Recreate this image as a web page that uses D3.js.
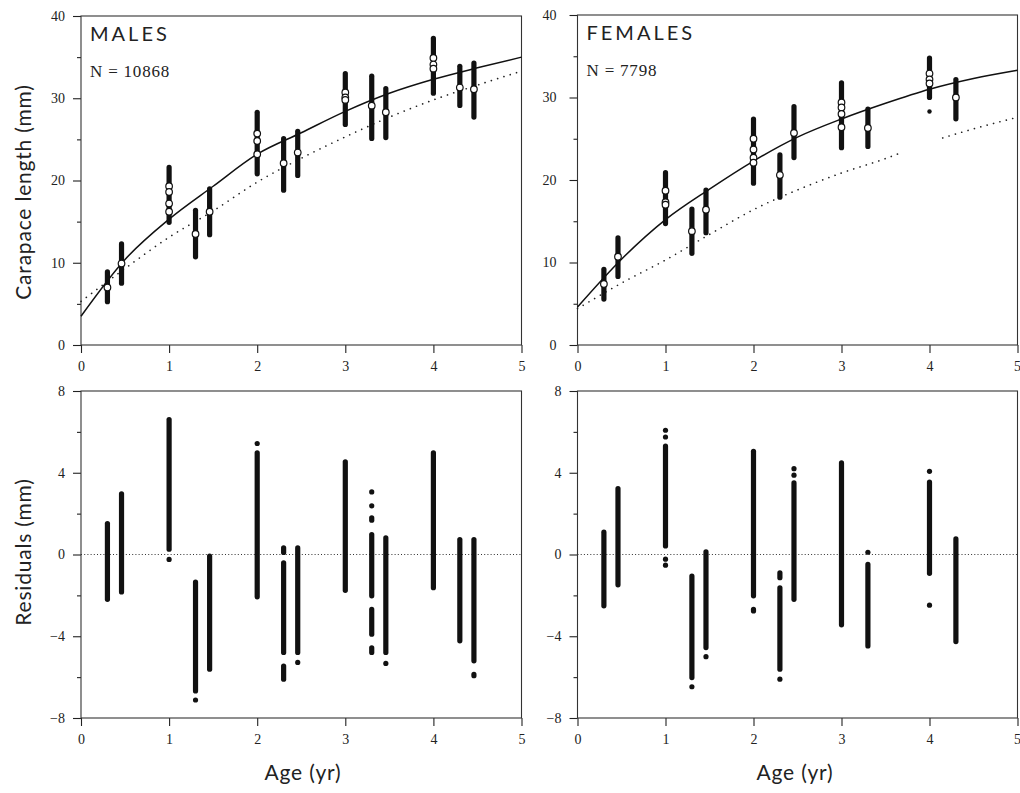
<!DOCTYPE html>
<html>
<head>
<meta charset="utf-8">
<script src="https://cdnjs.cloudflare.com/ajax/libs/d3/7.8.5/d3.min.js"></script>
<style>
  html, body { margin: 0; padding: 0; background: #fff; }
  svg { display: block; }
  .tick text { font-family: "Liberation Serif", serif; font-size: 14px; fill: #222; }
  .domain { stroke: none; }
  .tick line { stroke: #222; stroke-width: 1.1; }
  .frame { fill: none; stroke: #333; stroke-width: 1.1; }
  .title { font-family: Lato, sans-serif; font-size: 20px; fill: #222; letter-spacing: 3px; }
  .ncount { font-family: "Liberation Serif", serif; font-size: 17px; fill: #222; letter-spacing: 0.8px; }
  .axis-title { font-family: Lato, sans-serif; font-size: 21px; fill: #222; letter-spacing: 0.8px; }
</style>
</head>
<body>
<svg id="chart" width="1020" height="793"></svg>
<script>
// ---- data ----
// top panels: length-at-age columns (mm), open circles = sample means
var maleAges  = [0.3, 0.46, 1, 1.3, 1.46, 2, 2.3, 2.46, 3, 3.3, 3.46, 4, 4.3, 4.46];
var maleLo    = [4.95, 7.2, 14.6, 10.4, 13.1, 20.5, 18.5, 20.3, 26.5, 24.8, 24.9, 30.3, 28.8, 27.4];
var maleHi    = [9.2, 12.6, 21.9, 16.7, 19.3, 28.6, 25.4, 26.3, 33.3, 33.0, 31.5, 37.6, 34.2, 34.6];
var maleMeans = [[7.0], [9.9], [19.3, 18.6, 17.2, 16.2], [13.5], [16.2], [25.7, 24.8, 23.2],
                 [22.1], [23.4], [30.7, 30.1, 29.8], [29.1], [28.3], [34.9, 34.1, 33.6], [31.3], [31.1]];

var femaleAges  = [0.3, 0.46, 1, 1.3, 1.46, 2, 2.3, 2.46, 3, 3.3, 4, 4.3];
var femaleLo    = [5.25, 8.0, 14.4, 10.8, 13.3, 19.3, 17.6, 22.4, 23.6, 23.75, 29.7, 27.1];
var femaleHi    = [9.5, 13.3, 21.2, 16.8, 19.1, 27.7, 23.35, 29.2, 32.1, 28.9, 35.1, 32.5];
var femaleMeans = [[7.4], [10.7], [18.7, 17.3, 17.0], [13.8], [16.4], [25.0, 23.7, 22.7, 22.1],
                   [20.6], [25.7], [29.4, 28.8, 28.0, 26.4], [26.3], [32.9, 32.2, 31.7], [30.0]];
var femaleStray = [[4.0, 28.3]];

// fitted growth curves (solid) and comparison curves (dotted)
var curveAges     = [0, 0.5, 1, 1.5, 2, 2.5, 3, 3.5, 4, 4.5, 5];
var maleFit       = [3.5, 10.4, 15.3, 19.3, 23.2, 25.8, 28.4, 30.6, 32.3, 33.7, 35.0];
var maleDotted    = [5.3, 9.3, 13.1, 16.3, 19.8, 22.7, 25.3, 27.7, 29.8, 31.6, 33.3];
var femaleFit     = [4.6, 10.4, 15.2, 18.9, 22.3, 25.2, 27.4, 29.3, 31.0, 32.3, 33.3];
var femDotAges    = [0, 0.5, 1, 1.5, 2, 2.5, 3, 3.5, 3.7, 3.9, 4.15, 4.5, 5];
var femaleDotted  = [4.4, 7.5, 10.3, 13.4, 16.4, 18.8, 20.85, 22.6, 23.4, null, 25.1, 26.2, 27.6];

// residual columns: [lo, hi] runs of points (lo == hi is a single point)
var maleResid = [
  [[-2.32, 1.64]],
  [[-1.96, 3.1]],
  [[0.13, 6.73], [-0.24, -0.24]],
  [[-6.8, -1.22], [-7.12, -7.12]],
  [[-5.74, 0.05]],
  [[-2.2, 5.1], [5.43, 5.43]],
  [[-0.03, 0.45], [-4.92, -0.28], [-6.23, -5.33]],
  [[-4.92, 0.45], [-5.28, -5.28]],
  [[-1.88, 4.66]],
  [[3.06, 3.06], [2.38, 2.38], [1.55, 1.92], [-2.15, 1.1], [-4.03, -2.56], [-4.92, -4.44]],
  [[-4.92, 0.94], [-5.33, -5.33]],
  [[-1.75, 5.1]],
  [[-4.35, 0.86]],
  [[-5.33, 0.86], [-6.06, -5.74]]
];
var femaleResid = [
  [[-2.64, 1.22]],
  [[-1.61, 3.35]],
  [[0.29, 5.43], [5.75, 5.75], [6.08, 6.08], [-0.23, -0.23], [-0.52, -0.52]],
  [[-6.15, -0.93], [-6.47, -6.47]],
  [[-4.68, 0.26], [-5.0, -5.0]],
  [[-2.15, 5.18], [-2.89, -2.56]],
  [[-1.26, -0.77], [-5.74, -1.5], [-6.1, -6.1]],
  [[-2.32, 3.63], [3.88, 3.88], [4.2, 4.2]],
  [[-3.57, 4.61]],
  [[0.02, 0.2], [-4.6, -0.36]],
  [[-1.05, 3.67], [4.07, 4.07], [-2.48, -2.48]],
  [[-4.39, 0.89]]
];

var xTicks = [0, 1, 2, 3, 4, 5];
var lenMajor = [0, 10, 20, 30, 40], lenMinor = [5, 15, 25, 35];
var resMajor = [-8, -4, 0, 4, 8], resMinor = [-6, -2, 2, 6];

// ---- drawing ----
var svg = d3.select('#chart');
var R = 2.6; // half width of a point column

function panel(o) {
  var x = d3.scaleLinear().domain([0, 5]).range([o.left, o.right]);
  var y = d3.scaleLinear().domain(o.domain).range([o.bottom, o.top]);
  var g = svg.append('g');

  g.append('g').attr('transform', 'translate(' + o.left + ',0)')
    .call(d3.axisLeft(y).tickValues(o.major).tickSize(8).tickPadding(o.pad).tickFormat(d3.format('d')));
  g.append('g').attr('transform', 'translate(' + o.left + ',0)')
    .call(d3.axisLeft(y).tickValues(o.minor).tickSize(4).tickFormat(''));
  var xa = g.append('g').attr('transform', 'translate(0,' + o.bottom + ')')
    .call(d3.axisBottom(x).tickValues(xTicks).tickSize(8).tickPadding(8).tickFormat(d3.format('d')));
  // keep the last label inside the page on the right-hand panels
  if (o.right > 1000) {
    xa.selectAll('.tick text').filter(function(d) { return d === 5; })
      .attr('text-anchor', 'end').attr('dx', '3');
  }
  g.append('rect').attr('class', 'frame')
    .attr('x', o.left).attr('y', o.top)
    .attr('width', o.right - o.left).attr('height', o.bottom - o.top);
  return { g: g, x: x, y: y };
}

function column(g, cx, y0, y1) {
  // y0 = bottom edge px, y1 = top edge px of the run of points
  if (y0 - y1 < 2 * R) {
    g.append('circle').attr('cx', cx).attr('cy', (y0 + y1) / 2).attr('r', R).attr('fill', '#111');
  } else {
    g.append('line').attr('x1', cx).attr('x2', cx)
      .attr('y1', y0 - R).attr('y2', y1 + R)
      .attr('stroke', '#111').attr('stroke-width', 2 * R).attr('stroke-linecap', 'round');
  }
}

function lengthPanel(o, ages, lo, hi, means, fit, dotAges, dotted, title, n, stray) {
  var p = panel(o);
  var line = d3.line().defined(function(d) { return d[1] != null; })
    .x(function(d) { return p.x(d[0]); }).y(function(d) { return p.y(d[1]); })
    .curve(d3.curveMonotoneX);

  p.g.append('path').attr('d', line(dotAges.map(function(a, i) { return [a, dotted[i]]; })))
    .attr('fill', 'none').attr('stroke', '#222').attr('stroke-width', 1.6)
    .attr('stroke-dasharray', '0.1,6.5').attr('stroke-linecap', 'round');

  ages.forEach(function(a, i) {
    column(p.g, p.x(a), p.y(lo[i]), p.y(hi[i]));
  });
  (stray || []).forEach(function(s) {
    p.g.append('circle').attr('cx', p.x(s[0])).attr('cy', p.y(s[1])).attr('r', 2.2).attr('fill', '#111');
  });

  p.g.append('path').attr('d', line(curveAges.map(function(a, i) { return [a, fit[i]]; })))
    .attr('fill', 'none').attr('stroke', '#111').attr('stroke-width', 1.5);

  ages.forEach(function(a, i) {
    means[i].forEach(function(m) {
      p.g.append('circle').attr('cx', p.x(a)).attr('cy', p.y(m)).attr('r', 3.3)
        .attr('fill', '#fff').attr('stroke', '#111').attr('stroke-width', 1.2);
    });
  });

  p.g.append('text').attr('class', 'title').attr('x', o.left + 9).attr('y', o.top + 25).text(title);
  p.g.append('text').attr('class', 'ncount').attr('x', o.left + 9).attr('y', o.top + 61).text('N = ' + n);
}

function residPanel(o, ages, runs) {
  var p = panel(o);
  p.g.append('line').attr('x1', o.left).attr('x2', o.right)
    .attr('y1', p.y(0)).attr('y2', p.y(0))
    .attr('stroke', '#333').attr('stroke-width', 1.2).attr('stroke-dasharray', '1,2.2');
  ages.forEach(function(a, i) {
    runs[i].forEach(function(r) {
      var cx = p.x(a);
      if (r[0] === r[1]) {
        p.g.append('circle').attr('cx', cx).attr('cy', p.y(r[0])).attr('r', R).attr('fill', '#111');
      } else {
        column(p.g, cx, p.y(r[0]), p.y(r[1]));
      }
    });
  });
}

var topL = { left: 81, right: 521.5, top: 16, bottom: 345, domain: [0, 40], major: lenMajor, minor: lenMinor, pad: 8 };
var topR = { left: 577.5, right: 1017.5, top: 15, bottom: 345, domain: [0, 40], major: lenMajor, minor: lenMinor, pad: 13 };
var botL = { left: 81, right: 521.5, top: 391, bottom: 718, domain: [-8, 8], major: resMajor, minor: resMinor, pad: 8 };
var botR = { left: 577.5, right: 1017.5, top: 391, bottom: 718, domain: [-8, 8], major: resMajor, minor: resMinor, pad: 8 };

lengthPanel(topL, maleAges, maleLo, maleHi, maleMeans, maleFit, curveAges, maleDotted, 'MALES', 10868);
lengthPanel(topR, femaleAges, femaleLo, femaleHi, femaleMeans, femaleFit, femDotAges, femaleDotted, 'FEMALES', 7798, femaleStray);
residPanel(botL, maleAges, maleResid);
residPanel(botR, femaleAges, femaleResid);

svg.append('text').attr('class', 'axis-title').attr('text-anchor', 'middle')
  .attr('transform', 'translate(31,192) rotate(-90)').text('Carapace length (mm)');
svg.append('text').attr('class', 'axis-title').attr('text-anchor', 'middle')
  .attr('transform', 'translate(31,552) rotate(-90)').text('Residuals (mm)');
svg.append('text').attr('class', 'axis-title').attr('text-anchor', 'middle')
  .attr('x', 303).attr('y', 780).text('Age (yr)');
svg.append('text').attr('class', 'axis-title').attr('text-anchor', 'middle')
  .attr('x', 795).attr('y', 780).text('Age (yr)');
</script>
</body>
</html>
